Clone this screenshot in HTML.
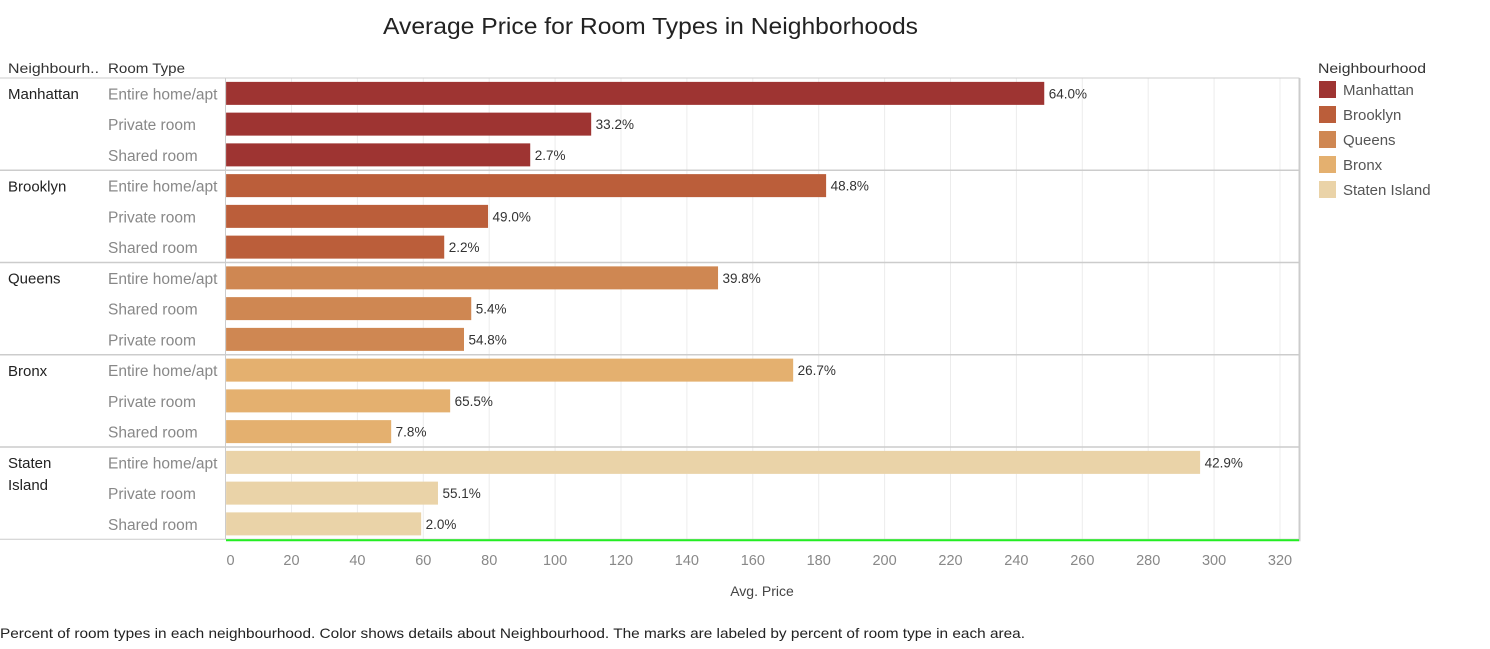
<!DOCTYPE html>
<html><head><meta charset="utf-8"><style>
body{margin:0;background:#fff;font-family:"Liberation Sans","DejaVu Sans",sans-serif;}
svg text{font-family:"Liberation Sans","DejaVu Sans",sans-serif;}
</style></head><body>
<svg id="chart" width="1490" height="644">
<text x="383" y="34" font-size="23" fill="#222" textLength="535" lengthAdjust="spacingAndGlyphs">Average Price for Room Types in Neighborhoods</text>
<text x="8" y="73" font-size="14" fill="#333" textLength="91" lengthAdjust="spacingAndGlyphs">Neighbourh..</text>
<text x="108" y="73" font-size="14" fill="#333" textLength="77" lengthAdjust="spacingAndGlyphs">Room Type</text>
<g id="grid"></g><g id="rows"></g><g id="bars"></g><g id="axis"></g>
<text x="762" y="596" text-anchor="middle" font-size="14" fill="#444">Avg. Price</text>
<text x="1318" y="73" font-size="14" fill="#333" textLength="108" lengthAdjust="spacingAndGlyphs">Neighbourhood</text>
<g id="legend"></g>
<text x="0" y="638" font-size="14" fill="#222" textLength="1025" lengthAdjust="spacingAndGlyphs">Percent of room types in each neighbourhood.  Color shows details about Neighbourhood.  The marks are labeled by percent of room type in each area.</text>
</svg>
<script>
const neighbourhoods=["Manhattan","Brooklyn","Queens","Bronx","Staten Island"];
const colors=["#9e3432","#bb5e3a","#cf8752","#e4b06f","#ead3a8"];
const roomTypes=[["Entire home/apt","Private room","Shared room"],["Entire home/apt","Private room","Shared room"],["Entire home/apt","Shared room","Private room"],["Entire home/apt","Private room","Shared room"],["Entire home/apt","Private room","Shared room"]];
const prices=[[248.3,110.8,92.3],[182.1,79.5,66.2],[149.3,74.4,72.2],[172.1,68.0,50.1],[295.6,64.3,59.2]];
const labels=[["64.0%","33.2%","2.7%"],["48.8%","49.0%","2.2%"],["39.8%","5.4%","54.8%"],["26.7%","65.5%","7.8%"],["42.9%","55.1%","2.0%"]];
const ticks=[0,20,40,60,80,100,120,140,160,180,200,220,240,260,280,300,320];
const NS="http://www.w3.org/2000/svg";
const x0=225.6,xMax=320,x1=1280,topY=78,rowH=30.75,barH=23;
function xs(v){return x0+(v/xMax)*(x1-x0);}
function mk(tag,attrs,parent,txt){const e=document.createElementNS(NS,tag);for(const k in attrs)e.setAttribute(k,attrs[k]);if(txt!==undefined)e.textContent=txt;document.getElementById(parent).appendChild(e);return e;}
const bottomY=topY+rowH*15;
ticks.forEach(t=>{
 if(t>0){const g=mk('line',{x1:xs(t),x2:xs(t),y1:topY,y2:bottomY,stroke:'#ececec'},'grid');
 
 }
 const tx=mk('text',{x:t===0?xs(t)+5:xs(t),y:565,'text-anchor':'middle','font-size':14.5,fill:'#888'},'axis',String(t));
 
 
});
mk('line',{x1:0,x2:1299.5,y1:topY,y2:topY,stroke:'#ccc'},'rows');
mk('line',{x1:225.5,x2:225.5,y1:topY,y2:bottomY,stroke:'#ccc'},'rows');
mk('line',{x1:1299.5,x2:1299.5,y1:topY,y2:bottomY+2,stroke:'#ccc','stroke-width':2},'rows');
const ax=mk('line',{x1:226,x2:1299,y1:bottomY+1,y2:bottomY+1,stroke:'#22ee22','stroke-width':2},'axis');


neighbourhoods.forEach((n,i)=>{
 const gy=topY+i*3*rowH;
 const parts=n==="Staten Island"?["Staten","Island"]:[n];
 parts.forEach((p,k)=>{const t=mk('text',{x:8,y:gy+21+k*22,'font-size':15,fill:'#222'},'rows',p);
 
 });
 mk('line',{x1:0,x2:1299.5,y1:gy+3*rowH,y2:gy+3*rowH,stroke:'#ccc','stroke-width':i<4?1.5:1},'rows');
 prices[i].forEach((v,j)=>{
  const cy=gy+j*rowH+rowH/2;
  const rt=mk('text',{x:108,y:cy+6,'font-size':15.5,fill:'#888'},'rows',roomTypes[i][j]);
  
  
  const b=mk('rect',{x:xs(0)+0.5,y:cy-barH/2,width:xs(v)-xs(0),height:barH,fill:colors[i]},'bars');
  
  
  const l=mk('text',{x:xs(v)+5,y:cy+5,'font-size':13.5,fill:'#333'},'bars',labels[i][j]);
  
  
 });
});
neighbourhoods.forEach((n,i)=>{
 const s=mk('rect',{x:1319,y:81+i*25,width:17,height:17,fill:colors[i]},'legend');
 
 
 const t=mk('text',{x:1343,y:95+i*25,'font-size':15,fill:'#555'},'legend',n);
 
 
});
</script>
</body></html>
